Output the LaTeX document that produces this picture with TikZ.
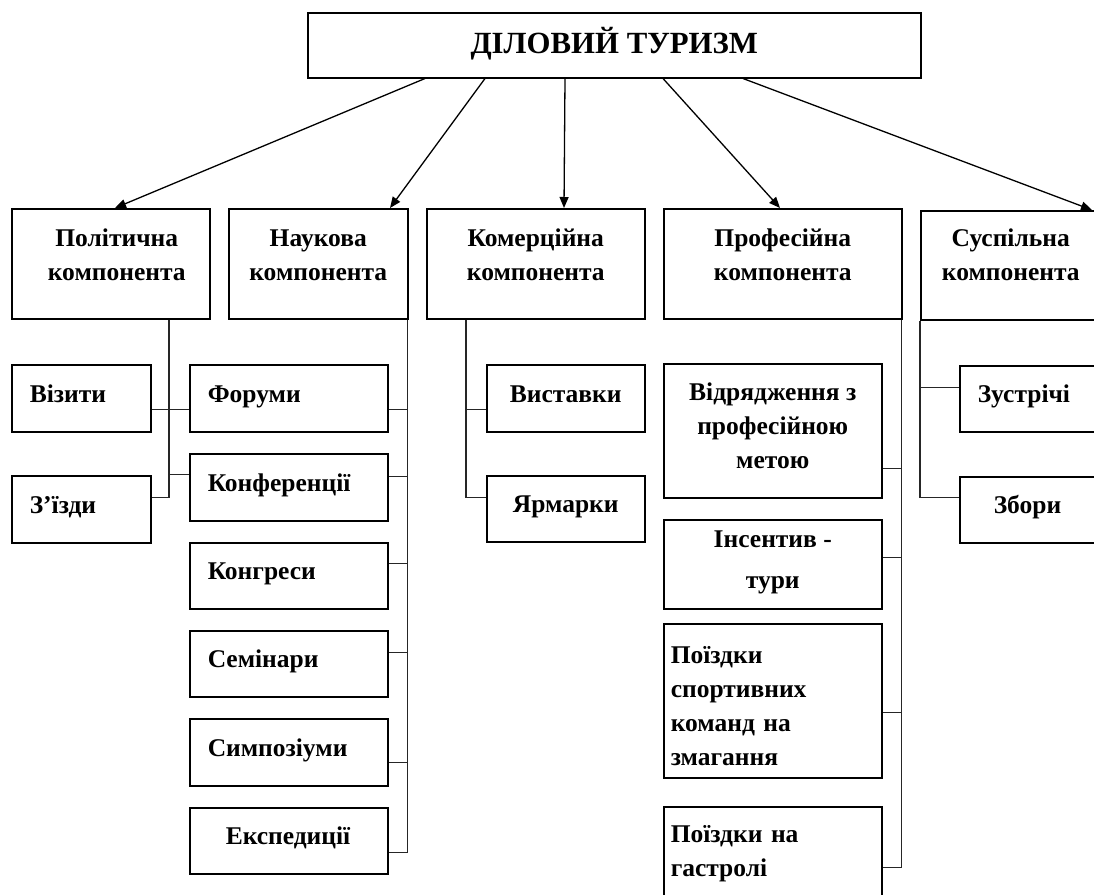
\documentclass[tikz,border=0pt]{standalone}
\usepackage{fontspec}
\setmainfont{Liberation Serif}
\usetikzlibrary{arrows.meta}
\begin{document}
\begin{tikzpicture}[x=1pt,y=-1pt,
  box/.style={draw=black, line width=1.5pt, rectangle, anchor=north west, inner sep=0pt,
    font=\bfseries\fontsize{25.5}{34}\selectfont},
  one/.style={box, text height=18pt, text depth=10pt},
  lb/.style={one, align=left, inner xsep=#1, text width={\pgfkeysvalueof{/pgf/minimum width}-2*#1}},
  cb/.style={box, align=center, text depth=0pt},
  conn/.style={line width=1.4pt, draw=black!85},
  arr/.style={line width=1.3pt, draw=black, -{Triangle[length=11pt,width=9pt]}}]
\useasboundingbox (0,0) rectangle (1094,894);
\clip (0,0) rectangle (1094,894);
\fill[white] (0,0) rectangle (1094,894);

% title
\node[box, minimum width=613pt, minimum height=65pt, align=center, text height=20pt, text depth=3pt,
  font=\bfseries\fontsize{30.8}{36}\selectfont] (top) at (307,12) {ДІЛОВИЙ ТУРИЗМ};

% main components
\node[cb, minimum width=198pt, minimum height=110pt, text height=34pt] (pol) at (11,208) {\hspace*{12pt}Політична\\\hspace*{12pt}компонента};
\node[cb, minimum width=179pt, minimum height=110pt, text height=34pt] (nauk) at (228,208) {Наукова\\компонента};
\node[cb, minimum width=218pt, minimum height=110pt, text height=34pt] (kom) at (426,208) {Комерційна\\компонента};
\node[cb, minimum width=238pt, minimum height=110pt, text height=34pt] (prof) at (663,208) {Професійна\\компонента};
\node[cb, minimum width=180pt, minimum height=109pt, text height=31pt] (sus) at (920,210) {Суспільна\\компонента};

% political
\node[minimum width=139pt, minimum height=67pt, lb=18pt] (viz) at (11,364) {Візити};
\node[minimum width=139pt, minimum height=67pt, lb=18pt] (zizd) at (11,475) {З’їзди};

% scientific
\node[minimum width=198pt, minimum height=67pt, lb=18pt] (forum) at (189,364) {Форуми};
\node[minimum width=198pt, minimum height=67pt, lb=18pt] (konf) at (189,453) {Конференції};
\node[minimum width=198pt, minimum height=66pt, lb=18pt] (kongr) at (189,542) {Конгреси};
\node[minimum width=198pt, minimum height=66pt, lb=18pt] (semin) at (189,630) {Семінари};
\node[minimum width=198pt, minimum height=67pt, lb=18pt] (simp) at (189,718) {Симпозіуми};
\node[minimum width=198pt, minimum height=66pt, lb=36pt] (exped) at (189,807) {Експедиції};

% commercial
\node[one, align=center, minimum width=158pt, minimum height=67pt] (vyst) at (486,364) {Виставки};
\node[one, align=center, minimum width=158pt, minimum height=66pt] (yarm) at (486,475) {Ярмарки};

% professional
\node[cb, minimum width=218pt, minimum height=134pt, text height=76pt] (vidr) at (663,363) {Відрядження з\\професійною\\метою};
\node[cb, minimum width=218pt, minimum height=89pt, text height=49pt] (insent) at (663,519) {Інсентив -\\[7pt]тури};
\node[box, align=left, minimum width=218pt, minimum height=154pt, inner xsep=7pt, text width=204pt, text height=18pt, text depth=92pt] (sport) at (663,623) {Поїздки\\спортивних\\команд на\\змагання};
\node[box, align=left, minimum width=218pt, minimum height=110pt, inner xsep=7pt, text width=204pt, text height=18pt, text depth=56pt] (gastr) at (663,806) {Поїздки на\\гастролі};

% social
\node[minimum width=141pt, minimum height=66pt, lb=18pt] (zustr) at (959,365) {Зустрічі};
\node[minimum width=141pt, minimum height=66pt, lb=34pt] (zbory) at (959,476) {Збори};

% arrows
\draw[arr] ([xshift=118pt]top.south west) -- ([xshift=104pt]pol.north west);
\draw[arr] ([xshift=178pt]top.south west) -- ([xshift=162pt]nauk.north west);
\draw[arr] ([xshift=258pt]top.south west) -- ([xshift=138pt]kom.north west);
\draw[arr] ([xshift=356pt]top.south west) -- ([xshift=117pt]prof.north west);
\draw[arr] ([xshift=436pt]top.south west) -- ([xshift=172pt]sus.north west);

% vertical trunk coordinates
\coordinate (polv) at ([xshift=158pt]pol.south west);
\coordinate (naukv) at ([xshift=-1pt]nauk.south east);
\coordinate (komv) at ([xshift=40pt]kom.south west);
\coordinate (profv) at ([xshift=-1pt]prof.south east);
\coordinate (susv) at (sus.south west);

% political branches
\draw[conn] ([yshift=-11.5pt]viz.east) -- ([yshift=-11.5pt]forum.west);
\draw[conn] (polv) |- ([yshift=11.5pt]zizd.east);
\draw[conn] (polv) |- ([yshift=12.5pt]konf.west);

% scientific branches
\draw[conn] (naukv) |- ([yshift=-11.5pt]forum.east);
\draw[conn] (naukv) |- ([yshift=10.5pt]konf.east);
\draw[conn] (naukv) |- ([yshift=12pt]kongr.east);
\draw[conn] (naukv) |- ([yshift=11pt]semin.east);
\draw[conn] (naukv) |- ([yshift=-10.5pt]simp.east);
\draw[conn] (naukv) |- ([yshift=-12pt]exped.east);

% commercial branches
\draw[conn] (komv) |- ([yshift=-11.5pt]vyst.west);
\draw[conn] (komv) |- ([yshift=11pt]yarm.west);

% professional branches
\draw[conn] (profv) |- ([yshift=-38pt]vidr.east);
\draw[conn] (profv) |- ([yshift=6.5pt]insent.east);
\draw[conn] (profv) |- ([yshift=-12pt]sport.east);
\draw[conn] (profv) |- ([yshift=-6pt]gastr.east);

% social branches
\draw[conn] (susv) |- ([yshift=11pt]zustr.west);
\draw[conn] (susv) |- ([yshift=12pt]zbory.west);
\end{tikzpicture}
\end{document}
